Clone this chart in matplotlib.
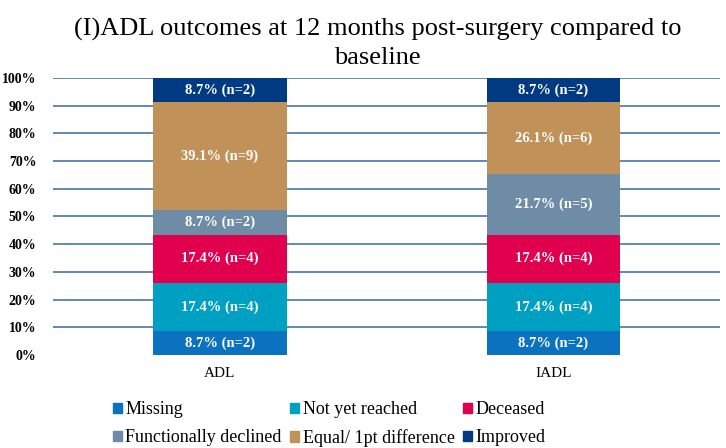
import matplotlib
matplotlib.use("Agg")
import matplotlib.pyplot as plt
from matplotlib.patches import Patch
import numpy as np

categories = ["ADL", "IADL"]
outcomes = ["Missing", "Not yet reached", "Deceased",
            "Functionally declined", "Equal/ 1pt difference", "Improved"]
pct_adl = [8.7, 17.4, 17.4, 8.7, 39.1, 8.7]
pct_iadl = [8.7, 17.4, 17.4, 21.7, 26.1, 8.7]
n_adl = [2, 4, 4, 2, 9, 2]
n_iadl = [2, 4, 4, 5, 6, 2]
colors = ["#0a72bf", "#00a0c2", "#e0004d", "#6e8ca6", "#c0925a", "#003a80"]

plt.rcParams["font.family"] = ["Liberation Serif", "DejaVu Serif"]

fig = plt.figure(figsize=(7.26, 4.48), dpi=100)
ax = fig.add_axes([0.073, 0.2076, 0.919, 0.6183])

x = np.arange(len(categories))
pcts = np.array([pct_adl, pct_iadl]).T
ns = np.array([n_adl, n_iadl]).T
bottom = np.zeros(len(categories))
for i, name in enumerate(outcomes):
    ax.bar(x, pcts[i], width=0.4, bottom=bottom, color=colors[i],
           label=name, zorder=2)
    for j in range(len(categories)):
        ax.text(x[j], bottom[j] + pcts[i][j] / 2,
                f"{pcts[i][j]}% (n={ns[i][j]})",
                ha="center", va="center", color="white", fontsize=10.5,
                fontweight="bold", zorder=3)
    bottom += pcts[i]

ax.set_xlim(-0.5, 1.5)
ax.set_ylim(0, 100)
ax.set_yticks(range(0, 101, 10))
ax.set_yticklabels([f"{v}%" for v in range(0, 101, 10)],
                   fontsize=10, fontweight="bold")
for v in range(10, 101, 10):
    ax.axhline(v, color="#5580aa", lw=1.3, zorder=1)
ax.set_xticks(x)
ax.set_xticklabels(categories, fontsize=11)
ax.tick_params(axis="both", length=0)
ax.tick_params(axis="y", pad=12)
ax.tick_params(axis="x", pad=9)
for s in ax.spines.values():
    s.set_visible(False)

fig.suptitle("(I)ADL outcomes at 12 months post-surgery compared to\nbaseline",
             x=0.52, y=0.96, fontsize=19, linespacing=1.35)

handles = [Patch(color=c) for c in colors]
order = [0, 3, 1, 4, 2, 5]
leg = fig.legend([handles[k] for k in order], [outcomes[k] for k in order],
                 ncol=3, loc="lower left", bbox_to_anchor=(0.138, -0.026),
                 frameon=False, fontsize=13, handlelength=0.5,
                 handleheight=0.5, handletextpad=0.2, columnspacing=0.45,
                 labelspacing=0.6, borderaxespad=0.3)

fig.savefig("out.png", dpi=100)
